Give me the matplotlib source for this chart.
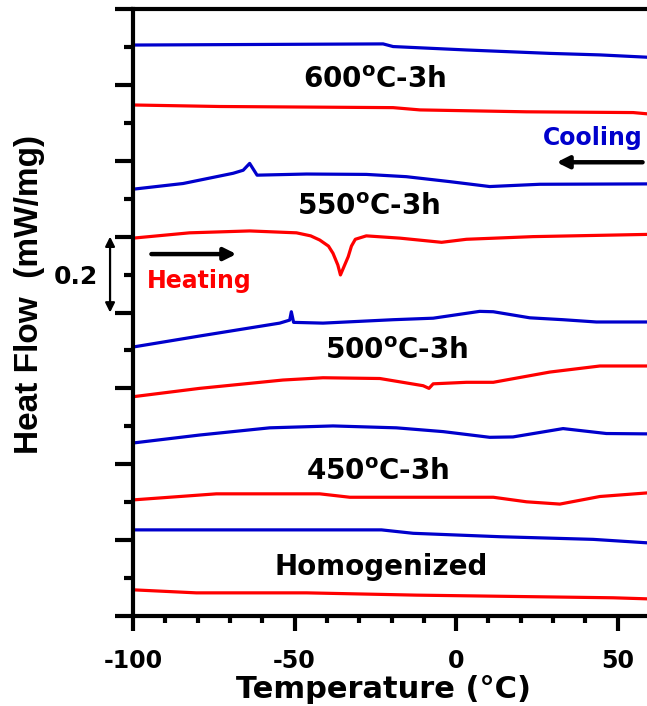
import matplotlib
matplotlib.use('Agg')
import matplotlib.pyplot as plt
from matplotlib.ticker import MultipleLocator, NullFormatter

plt.rcParams['axes.unicode_minus'] = False

BLUE = '#0000CC'
RED = '#FF0000'

# temperature (C) / stacked heat flow (mW/mg)
cool_600_t = [-100, -22.6, -19.5, 3.2, 29.0, 44.5, 58.9, 60]
cool_600_v = [1.505, 1.508, 1.501, 1.492, 1.483, 1.479, 1.473, 1.472]
heat_600_t = [-100, -73.2, -19.5, -11.2, 21.8, 54.8, 60]
heat_600_v = [1.347, 1.343, 1.340, 1.334, 1.329, 1.327, 1.323]

cool_550_t = [-100, -84.5, -69.0, -65.9, -63.9, -61.6, -46.3, -27.8, -15.4, -2.0, 10.4, 25.9, 60]
cool_550_v = [1.125, 1.140, 1.167, 1.175, 1.193, 1.162, 1.165, 1.164, 1.158, 1.145, 1.132, 1.138, 1.139]
heat_550_t = [-100, -82.5, -63.9, -49.4, -45.0, -42.2, -39.5, -38.1, -36.6, -35.8, -35.0, -33.4,
              -32.4, -31.2, -27.8, -17.4, -4.5, 3.2, 23.8, 60]
heat_550_v = [0.996, 1.010, 1.015, 1.010, 1.002, 0.991, 0.975, 0.956, 0.925, 0.899, 0.915, 0.947,
              0.975, 0.993, 1.002, 0.996, 0.985, 0.993, 1.000, 1.006]

cool_500_t = [-100, -79.4, -54.6, -51.5, -51.0, -50.3, -41.2, -19.5, -7.1, 7.3, 11.5, 22.8, 33.1, 43.4, 60]
cool_500_v = [0.709, 0.738, 0.772, 0.780, 0.802, 0.774, 0.772, 0.781, 0.785, 0.803, 0.802, 0.786, 0.781, 0.775, 0.775]
heat_500_t = [-100, -79.4, -53.6, -41.2, -23.6, -10.2, -8.4, -7.1, 3.2, 11.5, 29.0, 44.5, 60]
heat_500_v = [0.578, 0.600, 0.622, 0.628, 0.626, 0.607, 0.600, 0.612, 0.616, 0.616, 0.643, 0.659, 0.659]

cool_450_t = [-100, -79.4, -57.7, -38.1, -18.5, -4.0, 10.4, 17.6, 33.1, 46.5, 60]
cool_450_v = [0.456, 0.477, 0.496, 0.501, 0.496, 0.486, 0.471, 0.472, 0.494, 0.481, 0.480]
heat_450_t = [-100, -74.2, -42.2, -32.9, 11.5, 21.8, 32.1, 44.5, 60]
heat_450_v = [0.306, 0.322, 0.322, 0.313, 0.313, 0.301, 0.295, 0.315, 0.325]

cool_hom_t = [-100, -23.1, -13.3, 13.5, 42.4, 58.9, 60]
cool_hom_v = [0.227, 0.227, 0.218, 0.209, 0.202, 0.193, 0.193]
heat_hom_t = [-100, -80.4, -46.3, -12.3, 48.6, 60]
heat_hom_v = [0.069, 0.061, 0.061, 0.055, 0.048, 0.045]

labels = ['600$^{\\mathbf{o}}$C-3h', '550$^{\\mathbf{o}}$C-3h', '500$^{\\mathbf{o}}$C-3h',
          '450$^{\\mathbf{o}}$C-3h', 'Homogenized']
label_t = [-25.2, -27.1, -18.5, -24.2, -23.3]
label_v = [1.391, 1.057, 0.677, 0.358, 0.108]

fig = plt.figure(figsize=(6.47, 7.06), dpi=100)
ax = fig.add_axes([133 / 647, 90 / 706, 517 / 647, 607 / 706])

for t, v in [(cool_600_t, cool_600_v), (cool_550_t, cool_550_v), (cool_500_t, cool_500_v),
             (cool_450_t, cool_450_v), (cool_hom_t, cool_hom_v)]:
    ax.plot(t, v, color=BLUE, lw=2.3)
for t, v in [(heat_600_t, heat_600_v), (heat_550_t, heat_550_v), (heat_500_t, heat_500_v),
             (heat_450_t, heat_450_v), (heat_hom_t, heat_hom_v)]:
    ax.plot(t, v, color=RED, lw=2.3)

ax.set_xlim(-100, 60)
ax.set_ylim(0, 1.6)

# curve labels
for s, t, v in zip(labels, label_t, label_v):
    ax.text(t, v, s, ha='center', va='baseline', fontsize=20, fontweight='bold',
            family='DejaVu Sans', color='black')

ax.text(42.2, 1.241, 'Cooling', ha='center', va='baseline', fontsize=17,
        fontweight='bold', family='DejaVu Sans', color=BLUE)
ax.text(-79.4, 0.864, 'Heating', ha='center', va='baseline', fontsize=17,
        fontweight='bold', family='DejaVu Sans', color=RED)

# direction arrows
ax.annotate('', xy=(31.1, 1.196), xytext=(57.7, 1.196),
            arrowprops=dict(arrowstyle='-|>', lw=3.2, color='black', mutation_scale=18,
                            shrinkA=0, shrinkB=0))
ax.annotate('', xy=(-68.0, 0.954), xytext=(-94.3, 0.954),
            arrowprops=dict(arrowstyle='-|>', lw=3.2, color='black', mutation_scale=18,
                            shrinkA=0, shrinkB=0))

# 0.2 mW/mg scale bar
ax.annotate('', xy=(-107.1, 0.8), xytext=(-107.1, 1.0), annotation_clip=False,
            arrowprops=dict(arrowstyle='<|-|>', lw=1.6, color='black', mutation_scale=14,
                            shrinkA=0, shrinkB=0))
ax.text(-117.6, 0.876, '0.2', ha='center', va='baseline', fontsize=18, fontweight='bold',
        family='DejaVu Sans', clip_on=False)

# axes styling
for side in ['left', 'bottom', 'top', 'right']:
    ax.spines[side].set_linewidth(3)
ax.xaxis.set_major_locator(MultipleLocator(50))
ax.xaxis.set_minor_locator(MultipleLocator(10))
ax.yaxis.set_major_locator(MultipleLocator(0.2))
ax.yaxis.set_minor_locator(MultipleLocator(0.1))
ax.yaxis.set_major_formatter(NullFormatter())
ax.tick_params(axis='x', which='major', direction='out', length=11, width=3, pad=13,
               labelsize=17)
ax.tick_params(axis='x', which='minor', direction='out', length=5, width=3)
ax.tick_params(axis='y', which='major', direction='out', length=13, width=3)
ax.tick_params(axis='y', which='minor', direction='out', length=6.5, width=3)
for lab in ax.get_xticklabels():
    lab.set_fontweight('bold')
    lab.set_family('DejaVu Sans')

fig.text(384 / 647, 1 - 698 / 706, 'Temperature (°C)', ha='center', va='baseline',
         fontsize=22, fontweight='bold', family='DejaVu Sans')
fig.text(30 / 647, 1 - 295 / 706, 'Heat Flow  (mW/mg)', ha='center', va='center',
         rotation=90, fontsize=24, fontweight='bold', family='Liberation Sans')

fig.savefig('out.png', dpi=100)
